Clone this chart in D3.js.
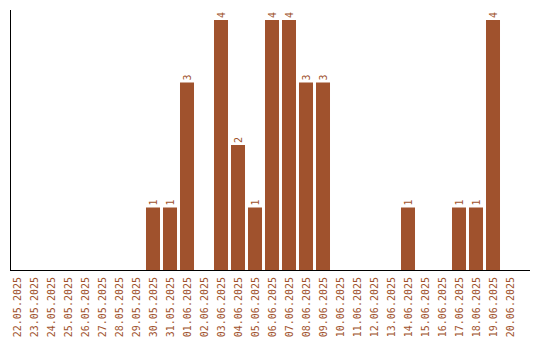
<!DOCTYPE html>
<html lang="en">
<head>
    <meta charset="utf-8">
    <title>Daily counts</title>
    <script src="https://d3js.org/d3.v7.min.js"></script>
    <style>
        body { margin: 0; background: #fff; }
    </style>
</head>
<body>
<svg id="chart" width="540" height="340"></svg>
<script>
	var dates = ["22.05.2025", "23.05.2025", "24.05.2025", "25.05.2025", "26.05.2025",
		"27.05.2025", "28.05.2025", "29.05.2025", "30.05.2025", "31.05.2025",
		"01.06.2025", "02.06.2025", "03.06.2025", "04.06.2025", "05.06.2025",
		"06.06.2025", "07.06.2025", "08.06.2025", "09.06.2025", "10.06.2025",
		"11.06.2025", "12.06.2025", "13.06.2025", "14.06.2025", "15.06.2025",
		"16.06.2025", "17.06.2025", "18.06.2025", "19.06.2025", "20.06.2025"];
	var counts = [0, 0, 0, 0, 0, 0, 0, 0, 1, 1,
		3, 0, 4, 2, 1, 4, 4, 3, 3, 0,
		0, 0, 0, 1, 0, 0, 1, 1, 4, 0];

	(function () {
		var svg = d3.select("#chart"),
			color = "#a0522d",
			font = "'DejaVu Sans Mono', monospace";

		var x = d3.scaleBand()
			.domain(dates)
			.range([8.5, 518.5])
			.paddingInner(0.176)
			.paddingOuter(0.088);

		var y = d3.scaleLinear()
			.domain([0, 4])
			.range([270, 20]);

		var data = dates.map(function (d, i) { return {date: d, value: counts[i]}; });

		svg.selectAll(".bar")
			.data(data.filter(function (d) { return d.value > 0; }))
			.enter().append("rect")
			.attr("class", "bar")
			.attr("x", function (d) { return x(d.date); })
			.attr("width", x.bandwidth())
			.attr("y", function (d) { return y(d.value); })
			.attr("height", function (d) { return y(0) - y(d.value); })
			.style("fill", color);

		svg.selectAll(".val")
			.data(data.filter(function (d) { return d.value > 0; }))
			.enter().append("text")
			.attr("class", "val")
			.attr("transform", function (d) {
				return "translate(" + (x(d.date) + x.bandwidth() / 2 + 3.6) + "," + (y(d.value) - 2) + ") rotate(-90)";
			})
			.style("font-family", font)
			.style("font-size", "10px")
			.style("fill", color)
			.text(function (d) { return d.value; });

		// axes: plain lines, no ticks
		svg.append("line")
			.attr("x1", 10.5).attr("x2", 10.5)
			.attr("y1", 10).attr("y2", 270)
			.style("stroke", "#000");
		svg.append("line")
			.attr("x1", 10).attr("x2", 530)
			.attr("y1", 270.5).attr("y2", 270.5)
			.style("stroke", "#000");

		svg.selectAll(".tick-label")
			.data(dates)
			.enter().append("text")
			.attr("class", "tick-label")
			.attr("text-anchor", "end")
			.attr("transform", function (d) {
				return "translate(" + (x(d) + x.bandwidth() / 2 + 3.6) + ",277) rotate(-90)";
			})
			.style("font-family", font)
			.style("font-size", "10px")
			.style("fill", color)
			.text(function (d) { return d; });
	}());
</script>
</body>
</html>
